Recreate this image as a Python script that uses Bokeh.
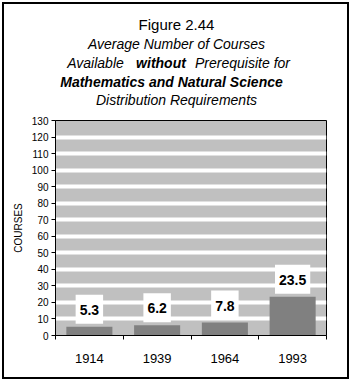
from bokeh.plotting import figure
from bokeh.layouts import column
from bokeh.models import ColumnDataSource, Label, FixedTicker, Range1d
from bokeh.core.properties import value
from bokeh.embed import file_html
from bokeh.resources import INLINE

# ---- data ----
years = ["1914", "1939", "1964", "1993"]
courses = [5.3, 6.2, 7.8, 23.5]
value_labels = ["5.3", "6.2", "7.8", "23.5"]
y_ticks = [0, 10, 20, 30, 40, 50, 60, 70, 80, 90, 100, 110, 120, 130]
grid_ticks = [10, 20, 30, 40, 50, 60, 70, 80, 90, 100, 110, 120]
y_axis_title = "COURSES"
title_lines = ["Figure 2.44", "Average Number of Courses",
               "Available", "without", "Prerequisite for",
               "Mathematics and Natural Science", "Distribution Requirements"]

FONT = "Liberation Sans"
OFF = 4            # page offset of the bordered box
W = 343            # inner width
HEAD_H = 106
CHART_H = 267
FRAME_L, FRAME_R = 55, 326     # absolute page x of the plot frame
BL = FRAME_L - OFF
BR = (OFF + W) - FRAME_R

# ---------------- header (title) ----------------
head = figure(width=W, height=HEAD_H, output_backend="svg", toolbar_location=None,
              x_range=Range1d(FRAME_L, FRAME_R),
              y_range=Range1d(OFF + HEAD_H, OFF),
              x_axis_type=None, y_axis_type=None,
              min_border_left=BL, min_border_right=BR,
              min_border_top=0, min_border_bottom=0)
head.outline_line_color = None
head.background_fill_color = "white"
head.border_fill_color = "white"
head.grid.visible = False

specs = [
    (title_lines[0], 176, 23.5, "normal", "15px"),
    (title_lines[1], 176, 43.5, "italic", "14px"),
    (title_lines[2], 95, 62.5, "italic", "14px"),
    (title_lines[3], 160.5, 62.5, "bold italic", "14px"),
    (title_lines[4], 242, 62.5, "italic", "14px"),
    (title_lines[5], 171, 81, "bold italic", "14px"),
    (title_lines[6], 176, 99.5, "italic", "14px"),
]
for t, x, y, style, size in specs:
    head.text(x=[x], y=[y], text=[t], text_align="center",
              text_baseline="middle", text_font=value(FONT),
              text_font_size=size, text_font_style=style, text_color="black")

# ---------------- chart ----------------
xs = [i + 0.5 for i in range(len(years))]
bounds = [float(i) for i in range(len(years) + 1)]
src = ColumnDataSource(dict(x=xs, top=courses, lab=value_labels))

p = figure(width=W, height=CHART_H, output_backend="svg", toolbar_location=None,
           x_range=Range1d(0, len(years)), y_range=Range1d(0, 130),
           min_border_left=BL, min_border_right=BR, min_border_top=10,
           min_border_bottom=42)
p.background_fill_color = "#C0C0C0"
p.border_fill_color = "white"
p.outline_line_color = "black"
p.outline_line_width = 1

p.xgrid.visible = False
p.ygrid.ticker = FixedTicker(ticks=grid_ticks)
p.ygrid.grid_line_color = "white"
p.ygrid.grid_line_width = 4

p.vbar(x="x", top="top", width=0.68, source=src,
       fill_color="#808080", line_color=None)

for x, v, lab in zip(xs, courses, value_labels):
    lbl = Label(x=x, y=v, text=lab, y_offset=3,
                text_align="center", text_baseline="bottom",
                text_font=FONT, text_font_size="14px", text_font_style="bold",
                text_color="black", background_fill_color="white")
    try:
        lbl.padding = dict(left=4, right=4, top=10, bottom=9)
    except Exception:
        try:
            lbl.padding = 6
        except Exception:
            pass
    p.add_layout(lbl)

# y axis
p.yaxis.ticker = FixedTicker(ticks=y_ticks)
p.yaxis.minor_tick_line_color = None
p.yaxis.major_tick_in = 0
p.yaxis.major_tick_out = 4
p.yaxis.major_label_standoff = 3
p.yaxis.major_label_text_font = FONT
p.yaxis.major_label_text_font_size = "10px"
p.yaxis.major_label_text_color = "black"
p.yaxis.axis_line_color = "black"
p.yaxis.major_tick_line_color = "black"
p.yaxis.axis_label = y_axis_title
p.yaxis.axis_label_text_font = FONT
p.yaxis.axis_label_text_font_size = "10px"
p.yaxis.axis_label_text_font_style = "normal"
p.yaxis.axis_label_text_color = "black"
p.yaxis.axis_label_standoff = 5

# x axis
p.xaxis.ticker = FixedTicker(ticks=xs, minor_ticks=bounds)
p.xaxis.major_label_overrides = {x: y for x, y in zip(xs, years)}
p.xaxis.major_tick_line_color = None
p.xaxis.major_tick_in = 0
p.xaxis.major_tick_out = 0
p.xaxis.minor_tick_line_color = "black"
p.xaxis.minor_tick_in = 0
p.xaxis.minor_tick_out = 4
p.xaxis.major_label_standoff = 14
p.xaxis.major_label_text_font = FONT
p.xaxis.major_label_text_font_size = "13px"
p.xaxis.major_label_text_color = "black"
p.xaxis.axis_line_color = "black"

layout = column(head, p, spacing=0,
                styles={"margin-left": f"{OFF}px", "margin-top": f"{OFF}px",
                        "outline": "2px solid black"})

open("out.html", "w").write(file_html(layout, INLINE))
